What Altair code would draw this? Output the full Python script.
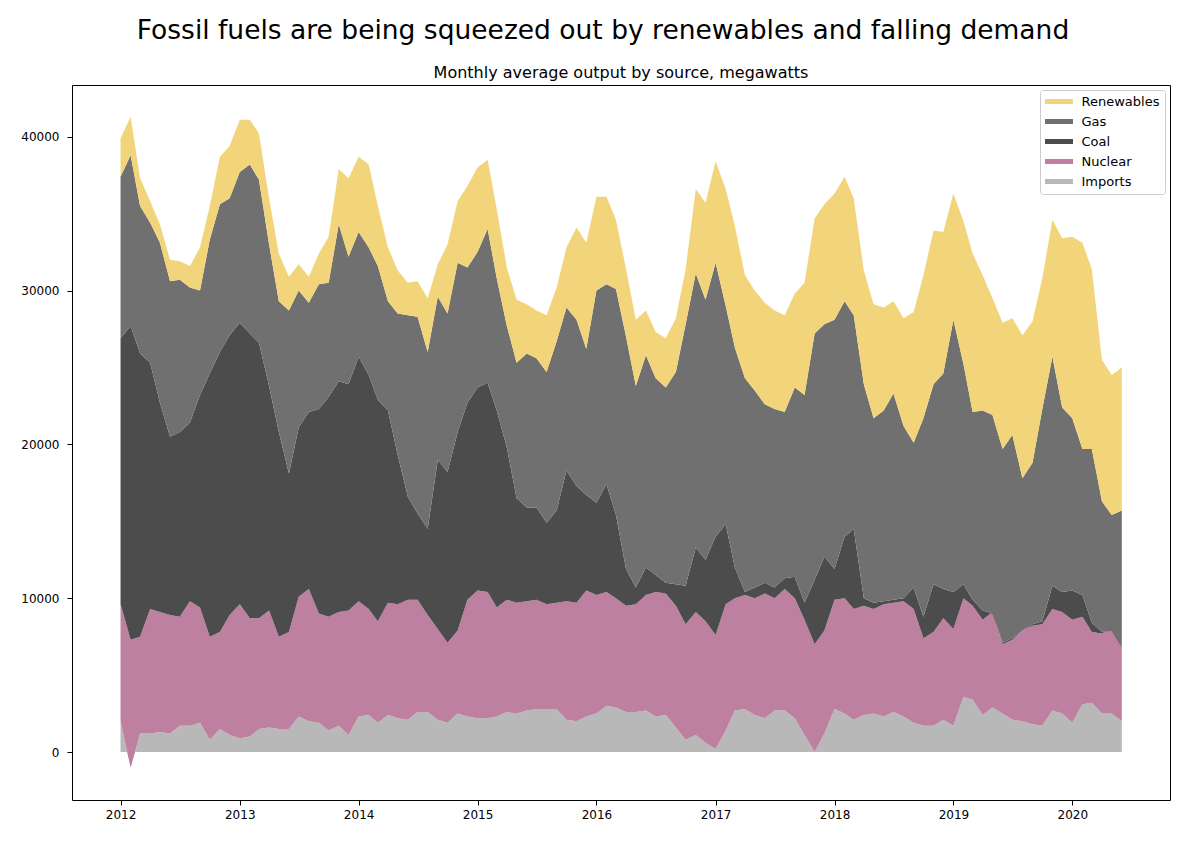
import altair as alt
import pandas as pd

# Monthly dates, Jan 2012 .. Jun 2020
months = pd.date_range("2012-01-01", periods=102, freq="MS").strftime("%Y-%m-%d").tolist()

sources = ["Renewables", "Gas", "Coal", "Nuclear", "Imports"]
colors = ["#f2d57a", "#707070", "#4c4c4c", "#be80a0", "#b8b8b8"]

# Stacked boundaries (MW): top edge of each band
imports_top = [
    2000, -1000, 1200, 1200, 1300, 1200, 1700, 1700, 1900, 800, 1500, 1100,
    900, 1000, 1500, 1600, 1500, 1500, 2300, 2000, 1900, 1400, 1700, 1100,
    2300, 2400, 1900, 2400, 2200, 2100, 2600, 2600, 2100, 1900, 2500, 2300,
    2200, 2200, 2300, 2600, 2500, 2700, 2800, 2800, 2800, 2100, 2000, 2300,
    2500, 3000, 2900, 2600, 2600, 2700, 2300, 2400, 1600, 800, 1100, 600,
    200, 1400, 2700, 2800, 2400, 2200, 2700, 2700, 2200, 1100, 0, 1200,
    2800, 2500, 2100, 2400, 2500, 2300, 2600, 2300, 1900, 1700, 1700, 2100,
    1700, 3600, 3400, 2400, 2900, 2500, 2100, 2000, 1800, 1700, 2700, 2500,
    1900, 3100, 3200, 2500, 2500, 2000,
]
nuclear_top = [
    9600, 7300, 7500, 9300, 9100, 8900, 8800, 9800, 9400, 7500, 7800, 8900,
    9600, 8700, 8700, 9200, 7500, 7800, 10100, 10600, 9000, 8800, 9100, 9200,
    9800, 9300, 8500, 9700, 9600, 9900, 9900, 8900, 8000, 7100, 7900, 9900,
    10500, 10400, 9400, 9900, 9700, 9800, 9900, 9600, 9700, 9800, 9700, 10500,
    10200, 10400, 10000, 9500, 9600, 10200, 10400, 10300, 9500, 8300, 9100, 8500,
    7600, 9600, 10000, 10200, 10000, 10300, 10000, 10600, 10000, 8600, 7000, 7900,
    9900, 10000, 9300, 9500, 9300, 9600, 9700, 9800, 9300, 7400, 7800, 8700,
    8000, 10000, 9500, 8600, 9100, 7000, 7300, 7900, 8200, 8300, 9300, 9100,
    8600, 8800, 7800, 7700, 8100, 6800,
]
coal_top = [
    26900, 27700, 25900, 25300, 22700, 20500, 20800, 21400, 23200, 24600, 26000, 27100,
    27900, 27200, 26600, 23800, 20800, 18100, 21100, 22100, 22300, 23100, 24100, 23900,
    25700, 24500, 22900, 22200, 19300, 16600, 15500, 14500, 19000, 18200, 20800, 22700,
    23700, 24000, 22200, 19800, 16500, 15900, 15900, 14900, 15700, 18300, 17300, 16700,
    16200, 17400, 15400, 11900, 10700, 12000, 11500, 11000, 10900, 10800, 13300, 12500,
    14000, 14800, 12000, 10400, 10700, 11000, 10700, 11300, 11400, 9700, 11200, 12700,
    11900, 14000, 14500, 10000, 9700, 9800, 9900, 10000, 10700, 8800, 10900, 10600,
    10400, 10900, 9900, 9200, 9000, 7100, 7400, 7900, 8300, 8500, 10800, 10400,
    10500, 10200, 8400, 7800, 7900, 6800,
]
gas_top = [
    37400, 38800, 35500, 34400, 33100, 30600, 30700, 30200, 30000, 33300, 35600, 36000,
    37700, 38200, 37200, 33000, 29300, 28700, 30000, 29200, 30400, 30500, 34300, 32200,
    33800, 32800, 31600, 29300, 28500, 28400, 28300, 26000, 29600, 28500, 31800, 31500,
    32500, 34000, 30800, 27700, 25300, 25900, 25600, 24700, 26700, 28900, 28100, 26200,
    30000, 30400, 30100, 27000, 23800, 25800, 24300, 23700, 24700, 27800, 31100, 29400,
    31800, 29000, 26300, 24300, 23500, 22600, 22300, 22100, 23700, 23200, 27200, 27800,
    28100, 29300, 28400, 23900, 21700, 22200, 23300, 21200, 20100, 21700, 23900, 24600,
    28100, 25200, 22100, 22200, 21900, 19700, 20600, 17800, 18800, 22300, 25700, 22400,
    21700, 19700, 19700, 16300, 15400, 15700,
]
renewables_top = [
    39900, 41300, 37300, 35800, 34300, 32000, 31900, 31600, 32800, 35500, 38700, 39400,
    41100, 41100, 40200, 36000, 32400, 30900, 31700, 30900, 32400, 33500, 37900, 37300,
    38700, 38200, 35500, 32800, 31300, 30500, 30600, 29500, 31700, 33000, 35800, 36800,
    38000, 38500, 35300, 31500, 29400, 29100, 28700, 28400, 30200, 32800, 34100, 33100,
    36100, 36100, 34600, 31400, 28100, 28700, 27300, 26900, 28200, 31400, 36600, 35700,
    38400, 36600, 34200, 31000, 30000, 29200, 28700, 28400, 29800, 30500, 34700, 35600,
    36300, 37400, 36000, 31300, 29100, 28900, 29300, 28200, 28600, 31000, 33900, 33800,
    36300, 34500, 32400, 31000, 29500, 27900, 28200, 27100, 28000, 30800, 34600, 33400,
    33500, 33100, 31400, 25500, 24500, 25000,
]

title_text = "Fossil fuels are being squeezed out by renewables and falling demand"
subtitle_text = "Monthly average output by source, megawatts"

zeros = [0] * len(months)
bands = [
    ("Imports", zeros, imports_top),
    ("Nuclear", imports_top, nuclear_top),
    ("Coal", nuclear_top, coal_top),
    ("Gas", coal_top, gas_top),
    ("Renewables", gas_top, renewables_top),
]

FONT = "DejaVu Sans"
W, H = 1098, 715

color_scale = alt.Scale(domain=sources, range=colors)
x_enc = alt.X(
    "date:T",
    scale=alt.Scale(
        domain=[alt.DateTime(year=2011, month=8, date=5), alt.DateTime(year=2020, month=10, date=27)],
        nice=False,
    ),
    axis=alt.Axis(
        title=None,
        format="%Y",
        values=[alt.DateTime(year=y, month=1, date=1) for y in range(2012, 2021)],
        labelPadding=4,
    ),
)
y_enc = alt.Y(
    "upper:Q",
    scale=alt.Scale(domain=[-3120, 43360], nice=False, zero=False),
    axis=alt.Axis(
        title=None,
        values=[0, 10000, 20000, 30000, 40000],
        format="d",
        minExtent=59,
        maxExtent=59,
        labelPadding=8,
    ),
)

legend = alt.Legend(
    title=None,
    orient="top-right",
    offset=5,
    fillColor="white",
    strokeColor="#cccccc",
    cornerRadius=3,
    padding=5,
    labelFont=FONT,
    labelFontSize=13,
    labelColor="black",
    symbolType="M-2.154,-0.385H2.154V0.385H-2.154Z",
    symbolSize=169,
    symbolStrokeWidth=0,
    symbolOpacity=1,
    symbolOffset=7.5,
    rowPadding=6,
    labelOffset=16,
)

layers = []
for name, lo, hi in bands:
    df = pd.DataFrame({"date": months, "source": name, "lower": lo, "upper": hi})
    layers.append(
        alt.Chart(df)
        .mark_area(opacity=1, strokeWidth=0)
        .encode(
            x=x_enc,
            y=y_enc,
            y2="lower:Q",
            color=alt.Color("source:N", scale=color_scale, legend=legend),
        )
    )

sub = (
    alt.Chart(pd.DataFrame({"t": [subtitle_text]}))
    .mark_text(font=FONT, fontSize=16, color="black", baseline="alphabetic", align="center")
    .encode(text="t:N", x=alt.value(W / 2), y=alt.value(-7))
)

chart = (
    alt.layer(*layers, sub)
    .properties(
        width=W,
        height=H,
        padding={"left": 5, "top": 10, "right": 5, "bottom": 5},
        title=alt.TitleParams(
            text=title_text,
            font=FONT,
            fontSize=26.5,
            fontWeight="normal",
            color="black",
            anchor="middle",
            dx=-18,
            offset=20.5,
        ),
    )
    .configure_view(stroke="black", strokeWidth=1)
    .configure_axis(
        domain=False,
        grid=False,
        tickColor="black",
        tickSize=5,
        labelColor="black",
        labelFont=FONT,
        labelFontSize=12,
    )
)

chart.save("out.html", embed_options={"renderer": "svg", "actions": False})
